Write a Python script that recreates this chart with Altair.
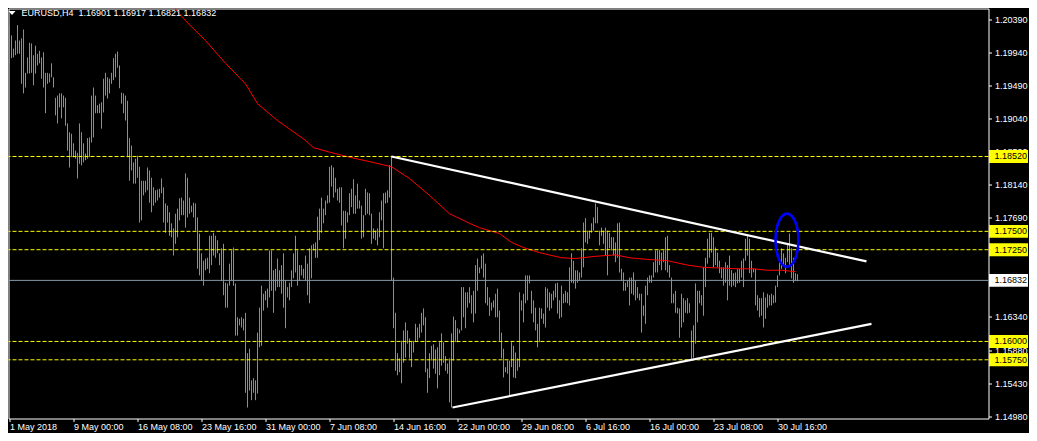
import json
import altair as alt
import pandas as pd

# ---------------- data ----------------
HIGH = [
    1.2031, 1.2017, 1.1999, 1.2010, 1.2031, 1.2010, 1.2013, 1.2025, 1.1966, 1.1987,
    1.2007, 1.2006, 1.1990, 1.2003, 1.1992, 1.1996, 1.1987, 1.1994, 1.1966, 1.1966,
    1.1965, 1.1979, 1.1960, 1.1932, 1.1935, 1.1938, 1.1938, 1.1935, 1.1932, 1.1897,
    1.1885, 1.1883, 1.1870, 1.1860, 1.1857, 1.1897, 1.1885, 1.1870, 1.1856, 1.1877,
    1.1878, 1.1935, 1.1946, 1.1935, 1.1922, 1.1924, 1.1926, 1.1958, 1.1966, 1.1960,
    1.1958, 1.1966, 1.1986, 1.1992, 1.1995, 1.1976, 1.1939, 1.1938, 1.1935, 1.1928,
    1.1877, 1.1867, 1.1844, 1.1849, 1.1853,
    1.1838, 1.1819, 1.1819, 1.1819, 1.1837, 1.1833, 1.1823, 1.1810, 1.1806, 1.1807,
    1.1808, 1.1822, 1.1810, 1.1788, 1.1785, 1.1776, 1.1761, 1.1754, 1.1774, 1.1781,
    1.1795, 1.1796, 1.1792, 1.1829, 1.1823, 1.1796, 1.1785, 1.1789, 1.1788, 1.1769,
    1.1747, 1.1720, 1.1710, 1.1713, 1.1714, 1.1744, 1.1744, 1.1748, 1.1744, 1.1738,
    1.1720, 1.1727, 1.1733, 1.1680, 1.1679, 1.1706, 1.1724, 1.1728, 1.1679, 1.1633,
    1.1631, 1.1633, 1.1631, 1.1639, 1.1584, 1.1590, 1.1547, 1.1550, 1.1547, 1.1612,
    1.1646, 1.1676, 1.1665, 1.1669, 1.1672, 1.1724, 1.1724, 1.1697,
    1.1699, 1.1713, 1.1697, 1.1704, 1.1720, 1.1683, 1.1674, 1.1680, 1.1697, 1.1720,
    1.1744, 1.1724, 1.1704, 1.1704, 1.1699, 1.1717, 1.1706, 1.1727, 1.1731, 1.1733,
    1.1735, 1.1770, 1.1781, 1.1796, 1.1781, 1.1792, 1.1799, 1.1838, 1.1840, 1.1837,
    1.1823, 1.1808, 1.1810, 1.1810, 1.1778, 1.1778, 1.1776, 1.1802, 1.1808, 1.1821,
    1.1799, 1.1815, 1.1792, 1.1785, 1.1772, 1.1808, 1.1803, 1.1802, 1.1774, 1.1754,
    1.1751, 1.1754, 1.1776, 1.1792, 1.1802, 1.1803, 1.1806, 1.1840,
    1.1852, 1.1687, 1.1639, 1.1584, 1.1577, 1.1601, 1.1615, 1.1626, 1.1615, 1.1604,
    1.1599, 1.1601, 1.1624, 1.1619, 1.1624, 1.1639, 1.1645, 1.1633, 1.1563, 1.1584,
    1.1594, 1.1596, 1.1589, 1.1592, 1.1599, 1.1611, 1.1599, 1.1580, 1.1570, 1.1577,
    1.1611, 1.1634, 1.1629, 1.1618, 1.1616, 1.1674, 1.1674, 1.1667, 1.1667, 1.1674,
    1.1663, 1.1669, 1.1704, 1.1713, 1.1701, 1.1717, 1.1720, 1.1706, 1.1674, 1.1660,
    1.1653, 1.1656, 1.1665, 1.1672, 1.1642, 1.1612, 1.1590, 1.1565, 1.1574, 1.1574,
    1.1599, 1.1594, 1.1585, 1.1577, 1.1667, 1.1656,
    1.1665, 1.1690, 1.1690, 1.1690, 1.1669, 1.1656, 1.1646, 1.1624, 1.1646, 1.1645,
    1.1638, 1.1674, 1.1672, 1.1667, 1.1665, 1.1669, 1.1679, 1.1680, 1.1656, 1.1676,
    1.1665, 1.1669, 1.1667, 1.1701, 1.1720, 1.1710, 1.1697, 1.1697, 1.1694, 1.1727,
    1.1762, 1.1768, 1.1751, 1.1751, 1.1761, 1.1769, 1.1788, 1.1783, 1.1751, 1.1755,
    1.1751, 1.1755, 1.1751, 1.1748, 1.1742, 1.1742, 1.1735, 1.1761, 1.1762, 1.1699,
    1.1694, 1.1680, 1.1683, 1.1687, 1.1687, 1.1694, 1.1683, 1.1674, 1.1665, 1.1665,
    1.1649, 1.1676, 1.1687, 1.1690, 1.1690, 1.1708, 1.1724, 1.1724,
    1.1725, 1.1721, 1.1724, 1.1742, 1.1744, 1.1704, 1.1687, 1.1665, 1.1669, 1.1646,
    1.1645, 1.1665, 1.1659, 1.1656, 1.1659, 1.1652, 1.1615, 1.1622, 1.1679, 1.1669,
    1.1669, 1.1663, 1.1701, 1.1714, 1.1740, 1.1748, 1.1748, 1.1742, 1.1728, 1.1721,
    1.1710, 1.1701, 1.1701, 1.1708, 1.1704, 1.1717, 1.1697, 1.1693, 1.1694, 1.1699,
    1.1699, 1.1710, 1.1713, 1.1740, 1.1744, 1.1740, 1.1710, 1.1699, 1.1699, 1.1663,
    1.1659, 1.1659, 1.1667, 1.1660, 1.1665, 1.1663, 1.1665, 1.1663, 1.1676, 1.1690,
    1.1708, 1.1727, 1.1720, 1.1714, 1.1733, 1.1747, 1.1727, 1.1714, 1.1693, 1.16917,
]

LOW = [
    1.1979, 1.1986, 1.1987, 1.1990, 1.1992, 1.1992, 1.1951, 1.1938, 1.1946, 1.1965,
    1.1965, 1.1966, 1.1949, 1.1965, 1.1976, 1.1979, 1.1958, 1.1946, 1.1911, 1.1951,
    1.1953, 1.1960, 1.1946, 1.1908, 1.1897, 1.1919, 1.1904, 1.1919, 1.1894, 1.1860,
    1.1837, 1.1851, 1.1851, 1.1849, 1.1822, 1.1842, 1.1840, 1.1844, 1.1847, 1.1849,
    1.1851, 1.1871, 1.1878, 1.1911, 1.1911, 1.1911, 1.1890, 1.1912, 1.1935, 1.1931,
    1.1938, 1.1951, 1.1956, 1.1960, 1.1973, 1.1945, 1.1924, 1.1911, 1.1901, 1.1851,
    1.1819, 1.1833, 1.1815, 1.1815, 1.1823,
    1.1762, 1.1765, 1.1799, 1.1803, 1.1806, 1.1789, 1.1776, 1.1785, 1.1789, 1.1792,
    1.1796, 1.1802, 1.1762, 1.1748, 1.1762, 1.1744, 1.1742, 1.1717, 1.1733, 1.1742,
    1.1765, 1.1772, 1.1772, 1.1755, 1.1769, 1.1774, 1.1776, 1.1769, 1.1751, 1.1699,
    1.1690, 1.1683, 1.1676, 1.1697, 1.1699, 1.1693, 1.1704, 1.1717, 1.1714, 1.1720,
    1.1704, 1.1683, 1.1663, 1.1646, 1.1646, 1.1676, 1.1683, 1.1676, 1.1608, 1.1608,
    1.1622, 1.1619, 1.1615, 1.1530, 1.1510, 1.1533, 1.1520, 1.1530, 1.1520, 1.1529,
    1.1592, 1.1594, 1.1642, 1.1656, 1.1646, 1.1660, 1.1669, 1.1639,
    1.1669, 1.1674, 1.1674, 1.1665, 1.1646, 1.1618, 1.1660, 1.1656, 1.1674, 1.1686,
    1.1694, 1.1676, 1.1683, 1.1690, 1.1686, 1.1683, 1.1663, 1.1652, 1.1686, 1.1724,
    1.1714, 1.1714, 1.1738, 1.1748, 1.1761, 1.1772, 1.1788, 1.1789, 1.1811, 1.1796,
    1.1803, 1.1792, 1.1789, 1.1758, 1.1727, 1.1740, 1.1762, 1.1772, 1.1783, 1.1774,
    1.1774, 1.1781, 1.1781, 1.1740, 1.1742, 1.1772, 1.1774, 1.1772, 1.1733, 1.1740,
    1.1738, 1.1731, 1.1742, 1.1765, 1.1727, 1.1788, 1.1789, 1.1796,
    1.1683, 1.1618, 1.1560, 1.1554, 1.1558, 1.1543, 1.1571, 1.1578, 1.1597, 1.1577,
    1.1565, 1.1585, 1.1599, 1.1601, 1.1605, 1.1612, 1.1622, 1.1558, 1.1530, 1.1550,
    1.1574, 1.1563, 1.1556, 1.1536, 1.1554, 1.1567, 1.1571, 1.1560, 1.1556, 1.1517,
    1.1510, 1.1574, 1.1599, 1.1599, 1.1611, 1.1615, 1.1633, 1.1618, 1.1646, 1.1652,
    1.1638, 1.1626, 1.1638, 1.1669, 1.1693, 1.1699, 1.1687, 1.1652, 1.1649, 1.1635,
    1.1642, 1.1646, 1.1633, 1.1633, 1.1601, 1.1577, 1.1551, 1.1558, 1.1556, 1.1526,
    1.1565, 1.1551, 1.1550, 1.1560, 1.1565, 1.1642,
    1.1626, 1.1652, 1.1656, 1.1679, 1.1638, 1.1626, 1.1615, 1.1592, 1.1599, 1.1631,
    1.1624, 1.1619, 1.1646, 1.1642, 1.1645, 1.1656, 1.1660, 1.1638, 1.1631, 1.1633,
    1.1652, 1.1653, 1.1652, 1.1649, 1.1680, 1.1679, 1.1672, 1.1680, 1.1683, 1.1687,
    1.1701, 1.1735, 1.1733, 1.1740, 1.1748, 1.1751, 1.1761, 1.1761, 1.1731, 1.1744,
    1.1733, 1.1717, 1.1690, 1.1727, 1.1724, 1.1717, 1.1708, 1.1714, 1.1694, 1.1683,
    1.1669, 1.1669, 1.1674, 1.1649, 1.1665, 1.1663, 1.1656, 1.1659, 1.1656, 1.1612,
    1.1635, 1.1624, 1.1663, 1.1680, 1.1680, 1.1687, 1.1694, 1.1694,
    1.1704, 1.1697, 1.1708, 1.1697, 1.1694, 1.1687, 1.1652, 1.1652, 1.1639, 1.1638,
    1.1605, 1.1619, 1.1626, 1.1639, 1.1638, 1.1639, 1.1574, 1.1578, 1.1597, 1.1626,
    1.1652, 1.1649, 1.1635, 1.1674, 1.1706, 1.1714, 1.1721, 1.1701, 1.1704, 1.1701,
    1.1693, 1.1686, 1.1676, 1.1680, 1.1656, 1.1676, 1.1674, 1.1676, 1.1674, 1.1679,
    1.1680, 1.1687, 1.1674, 1.1710, 1.1717, 1.1693, 1.1687, 1.1694, 1.1649, 1.1642,
    1.1633, 1.1635, 1.1619, 1.1631, 1.1646, 1.1649, 1.1649, 1.1652, 1.1653, 1.1674,
    1.1690, 1.1699, 1.1704, 1.1693, 1.1708, 1.1704, 1.1686, 1.1680, 1.1683, 1.16821,
]

# moving average (bar index, price)
MA_BAR = [79, 88, 98, 108, 118, 124, 134, 148, 152, 160, 170, 180, 191, 200, 210,
          220, 230, 235, 245, 251, 257, 265, 276, 283, 293, 303, 310, 318, 329,
          339, 347, 364, 372, 379, 386, 393]
MA_VAL = [1.2066, 1.2037, 1.2010, 1.1979, 1.1951, 1.1924, 1.1901, 1.1874, 1.1864,
          1.1858, 1.1851, 1.1845, 1.1838, 1.1822, 1.1799, 1.1774, 1.1761, 1.1755,
          1.1747, 1.1735, 1.1728, 1.1721, 1.1714, 1.1713, 1.1716, 1.1718, 1.1714,
          1.1712, 1.1710, 1.1704, 1.1701, 1.1699, 1.1699, 1.1697, 1.1697, 1.1695]

# trend lines (start / end)
TREND_NAME = ["upper", "upper", "lower", "lower"]
TREND_BAR = [191, 428.5, 221.5, 431]
TREND_VAL = [1.1852, 1.1709, 1.1510, 1.1624]

# horizontal levels
LEVELS = [1.18520, 1.17500, 1.17250, 1.16000, 1.15750]
LAST_PRICE = 1.16832

# highlighted breakout (ellipse centre)
ELLIPSE_BAR = [388.75]
ELLIPSE_VAL = [1.1738]

# visible price-scale labels (the ones under the level boxes are hidden)
Y_TICKS = [1.20390, 1.19940, 1.19490, 1.19040, 1.18590, 1.18140, 1.17690,
           1.16340, 1.15880, 1.15430, 1.14980]
X_TICKS = [0, 32, 64, 96, 128, 160, 192, 224, 256, 288, 320, 352, 384]
X_LABELS = ["1 May 2018", "9 May 00:00", "16 May 08:00", "23 May 16:00",
            "31 May 00:00", "7 Jun 08:00", "14 Jun 16:00", "22 Jun 00:00",
            "29 Jun 08:00", "6 Jul 16:00", "16 Jul 00:00", "23 Jul 08:00",
            "30 Jul 16:00"]
HEADER = "EURUSD,H4\u00a0 1.16901 1.16917 1.16821 1.16832"

# ---------------- styling ----------------
W, H = 980, 410
FONT = "Liberation Sans"
FS = 9
GREEN = "#32cd32"

bars = pd.DataFrame({"bar": list(range(len(HIGH))), "high": HIGH, "low": LOW})
ma = pd.DataFrame({"bar": MA_BAR, "price": MA_VAL})
trend = pd.DataFrame({"name": TREND_NAME, "bar": TREND_BAR, "price": TREND_VAL})
levels = pd.DataFrame({"price": LEVELS})
last = pd.DataFrame({"price": [LAST_PRICE]})
ell = pd.DataFrame({"bar": ELLIPSE_BAR, "price": ELLIPSE_VAL})
boxes = pd.DataFrame({
    "price": LEVELS + [LAST_PRICE],
    "fill": ["#ffff00"] * len(LEVELS) + ["#ffffff"],
    "label": [f"{v:.5f}" for v in LEVELS + [LAST_PRICE]],
})
header = pd.DataFrame({"text": [HEADER]})

xscale = alt.Scale(domain=[-0.5, 489.5], zero=False, nice=False)
yscale = alt.Scale(domain=[1.14950, 1.205366], zero=False, nice=False)

label_expr = ("%s[indexof(%s, datum.value)]"
              % (json.dumps(X_LABELS), json.dumps(X_TICKS)))

xaxis = alt.Axis(values=X_TICKS, labelExpr=label_expr, orient="bottom",
                 labelAlign="left", labelPadding=1, tickSize=3,
                 labelOverlap=False, labelFlush=False, labelBound=False,
                 domain=False, grid=False, title=None)
yaxis = alt.Axis(values=Y_TICKS, format=".5f", orient="right", tickSize=3,
                 labelPadding=3, labelOverlap=False, labelFlush=False,
                 labelBound=False, domain=False, grid=False, title=None)

X = alt.X("bar:Q", scale=xscale, axis=xaxis)

bar_layer = alt.Chart(bars).mark_rule(color=GREEN, strokeWidth=1, clip=True).encode(
    x=X, y=alt.Y("high:Q", scale=yscale, axis=yaxis), y2="low:Q")

ma_layer = alt.Chart(ma).mark_line(color="#ff0000", strokeWidth=1, clip=True).encode(
    x=alt.X("bar:Q", scale=xscale), y=alt.Y("price:Q", scale=yscale))

level_layer = alt.Chart(levels).mark_rule(
    color="#ffff00", strokeWidth=1, strokeDash=[4, 2]).encode(
    y=alt.Y("price:Q", scale=yscale))

last_layer = alt.Chart(last).mark_rule(color="#8799a8", strokeWidth=1).encode(
    y=alt.Y("price:Q", scale=yscale))

trend_layer = alt.Chart(trend).mark_line(color="#ffffff", strokeWidth=2.2, clip=True).encode(
    x=alt.X("bar:Q", scale=xscale), y=alt.Y("price:Q", scale=yscale),
    detail="name:N")

ELLIPSE_PATH = ("M0,-1 C0.2397,-1 0.434,-0.5523 0.434,0 C0.434,0.5523 0.2397,1 0,1 "
                "C-0.2397,1 -0.434,0.5523 -0.434,0 C-0.434,-0.5523 -0.2397,-1 0,-1 Z")
ell_layer = alt.Chart(ell).mark_point(
    shape=ELLIPSE_PATH, size=2809, filled=False, color="#0000ff",
    strokeWidth=2.6, opacity=1).encode(
    x=alt.X("bar:Q", scale=xscale), y=alt.Y("price:Q", scale=yscale))

BOX_PATH = "M-1,-0.33 L1,-0.33 L1,0.33 L-1,0.33 Z"
box_layer = alt.Chart(boxes).mark_point(
    shape=BOX_PATH, size=1521, filled=True, opacity=1, strokeWidth=0).encode(
    x=alt.value(W + 20), y=alt.Y("price:Q", scale=yscale),
    color=alt.Color("fill:N", scale=None))

box_text = alt.Chart(boxes).mark_text(
    align="left", baseline="middle", font=FONT, fontSize=FS, color="#000000").encode(
    x=alt.value(W + 6), y=alt.Y("price:Q", scale=yscale), text="label:N")

head_text = alt.Chart(header).mark_text(
    align="left", baseline="middle", font=FONT, fontSize=FS, color="#ffffff").encode(
    x=alt.value(13), y=alt.value(4.5), text="text:N")

head_tri = alt.Chart(header).mark_point(
    shape="M-1,-0.55 L1,-0.55 L0,0.55 Z", size=49, filled=True,
    color="#ffffff", opacity=1).encode(x=alt.value(3.5), y=alt.value(4.5))

chart = alt.layer(
    bar_layer, ma_layer, level_layer, last_layer, trend_layer, ell_layer,
    box_layer, box_text, head_text, head_tri,
).properties(
    width=W, height=H,
    autosize=alt.AutoSizeParams(type="none"),
    padding={"left": 0.5, "top": 0.5, "right": 40.5, "bottom": 14.5},
).configure(
    background="#000000",
).configure_view(
    stroke="#ffffff", strokeWidth=1,
).configure_axis(
    labelColor="#ffffff", tickColor="#ffffff", labelFont=FONT,
    labelFontSize=FS, tickWidth=1,
)

chart.save("out.html", embed_options={"renderer": "svg", "actions": False})
